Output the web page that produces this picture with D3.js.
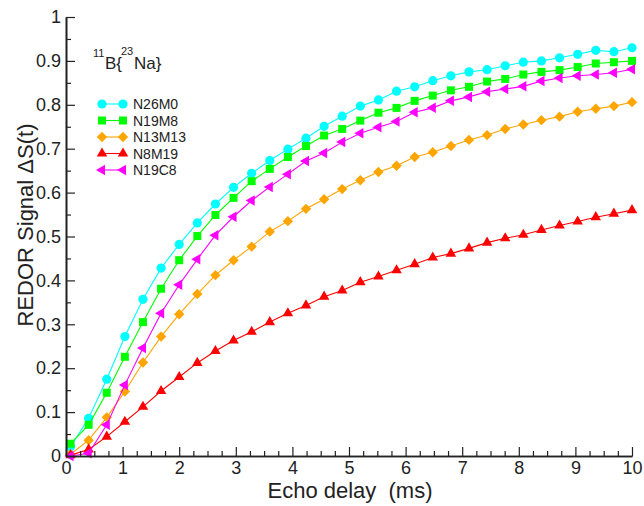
<!DOCTYPE html>
<html><head><meta charset="utf-8">
<script src="https://cdn.jsdelivr.net/npm/d3@7"></script>
<style>body{margin:0;background:#fff}svg{display:block}text{font-family:"Liberation Sans",Arial,Helvetica,sans-serif;fill:#222}</style>
</head><body><svg id="c" width="644" height="506"></svg>
<script>
const delays = [0.08,0.40,0.72,1.04,1.36,1.68,2.00,2.32,2.64,2.96,3.28,3.60,3.92,4.24,4.56,4.88,5.20,5.52,5.84,6.16,6.48,6.80,7.12,7.44,7.76,8.08,8.40,8.72,9.04,9.36,9.68,10.00];
const N26M0 = [0.021,0.086,0.175,0.272,0.357,0.428,0.482,0.531,0.574,0.612,0.644,0.673,0.699,0.724,0.751,0.774,0.797,0.811,0.831,0.841,0.855,0.866,0.875,0.880,0.889,0.897,0.900,0.907,0.915,0.924,0.921,0.930];
const N19M8 = [0.028,0.071,0.144,0.226,0.305,0.381,0.446,0.501,0.549,0.588,0.626,0.654,0.681,0.706,0.730,0.745,0.764,0.782,0.793,0.809,0.821,0.833,0.841,0.853,0.859,0.869,0.875,0.879,0.886,0.894,0.897,0.900];
const N13M13 = [0.004,0.036,0.088,0.147,0.213,0.272,0.323,0.369,0.412,0.446,0.477,0.511,0.535,0.563,0.585,0.608,0.628,0.647,0.661,0.681,0.692,0.706,0.720,0.731,0.745,0.755,0.765,0.773,0.784,0.791,0.797,0.806];
const N8M19 = [0.002,0.015,0.044,0.078,0.112,0.148,0.180,0.212,0.239,0.263,0.283,0.305,0.325,0.343,0.363,0.377,0.396,0.409,0.423,0.437,0.452,0.461,0.473,0.486,0.496,0.504,0.515,0.525,0.534,0.544,0.552,0.560];
const N19C8 = [0.000,0.006,0.071,0.162,0.246,0.325,0.390,0.448,0.503,0.545,0.582,0.613,0.642,0.672,0.690,0.715,0.735,0.749,0.762,0.783,0.793,0.809,0.818,0.830,0.836,0.842,0.854,0.861,0.866,0.869,0.873,0.881];
const seriesNames = ["N26M0","N19M8","N13M13","N8M19","N19C8"];
const xTicks = [0,1,2,3,4,5,6,7,8,9,10];
const xTickLabels = ["0","1","2","3","4","5","6","7","8","9","10"];
const yTicks = [0,0.1,0.2,0.3,0.4,0.5,0.6,0.7,0.8,0.9,1];
const yTickLabels = ["0","0.1","0.2","0.3","0.4","0.5","0.6","0.7","0.8","0.9","1"];

const seriesData = [N26M0,N19M8,N13M13,N8M19,N19C8];
const colors = ["#00ffff","#00ff00","#ffa500","#ff0000","#ff00ff"];
const shapes = ["circle","square","diamond","triangle","left"];

const svg = d3.select("#c");
const x = d3.scaleLinear().domain([0,10]).range([66,632]);
const y = d3.scaleLinear().domain([0,1]).range([456,17]);

function markerPath(shape){
  switch(shape){
    case "circle": return d3.symbol(d3.symbolCircle, Math.PI*4.6*4.6)();
    case "square": return "M-4,-4H4V4H-4Z";
    case "diamond": return "M0,-5.2L5.2,0L0,5.2L-5.2,0Z";
    case "triangle": { const s=10.5, h=s*Math.sqrt(3)/2; return `M0,${-2*h/3}L${s/2},${h/3}L${-s/2},${h/3}Z`; }
    case "left": { const s=10.5, h=s*Math.sqrt(3)/2; return `M${-2*h/3},0L${h/3},${-s/2}L${h/3},${s/2}Z`; }
  }
}

const line = d3.line().x(d=>x(d[0])).y(d=>y(d[1]));
seriesData.forEach((vals,i)=>{
  const pts = delays.map((d,j)=>[d,vals[j]]);
  const g = svg.append("g");
  g.append("path").attr("d",line(pts)).attr("fill","none").attr("stroke",colors[i]).attr("stroke-width",1.1);
  g.selectAll("path.m").data(pts).enter().append("path").attr("class","m")
    .attr("d",markerPath(shapes[i]))
    .attr("transform",d=>`translate(${x(d[0])},${y(d[1])})`)
    .attr("fill",colors[i]);
});

// axes
const axisColor = "#222";
const yMinor = d3.range(0,1.0001,0.05).map(v=>+v.toFixed(2)).filter(v=>!yTicks.includes(v));
const xMinor = d3.range(0,10.0001,0.25).map(v=>+v.toFixed(2)).filter(v=>!xTicks.includes(v));

const yAx = svg.append("g").attr("transform","translate(66,0)")
  .call(d3.axisLeft(y).tickValues(yTicks).tickFormat((d,i)=>yTickLabels[i]).tickSizeInner(-9).tickSizeOuter(0).tickPadding(5));
const yAxMin = svg.append("g").attr("transform","translate(66,0)")
  .call(d3.axisLeft(y).tickValues(yMinor).tickFormat("").tickSizeInner(-5).tickSizeOuter(0));
const xAx = svg.append("g").attr("transform","translate(0,456)")
  .call(d3.axisBottom(x).tickValues(xTicks).tickFormat((d,i)=>xTickLabels[i]).tickSizeInner(-9).tickSizeOuter(0).tickPadding(5));
const xAxMin = svg.append("g").attr("transform","translate(0,456)")
  .call(d3.axisBottom(x).tickValues(xMinor).tickFormat("").tickSizeInner(-5).tickSizeOuter(0));
[yAx,yAxMin,xAx,xAxMin].forEach(a=>{
  a.selectAll("path.domain").attr("stroke",axisColor).attr("stroke-width",1.6);
  a.selectAll("line").attr("stroke",axisColor).attr("stroke-width",1.2);
  a.selectAll("text").attr("font-size",18).attr("fill",axisColor).attr("font-family","Liberation Sans, Arial, sans-serif");
});

// axis titles
svg.append("text").attr("transform","translate(33,225) rotate(-90)").attr("text-anchor","middle")
  .attr("font-size",22).text("REDOR Signal ΔS(t)");
svg.append("text").attr("x",350).attr("y",498).attr("text-anchor","middle")
  .attr("font-size",22).attr("xml:space","preserve").style("white-space","pre").text("Echo delay  (ms)");

// annotation 11B{23Na}
svg.append("text").attr("x",93).attr("y",57).attr("font-size",11).text("11");
svg.append("text").attr("x",105).attr("y",69).attr("font-size",17).text("B{");
svg.append("text").attr("x",121).attr("y",55).attr("font-size",11).text("23");
svg.append("text").attr("x",134).attr("y",69).attr("font-size",17).text("Na}");

// legend
const legY = [104,120.5,137,153.5,170];
seriesNames.forEach((name,i)=>{
  const g = svg.append("g").attr("transform",`translate(0,${legY[i]})`);
  g.append("line").attr("x1",102).attr("x2",123).attr("y1",0).attr("y2",0).attr("stroke",colors[i]).attr("stroke-width",1.1);
  [102,123].forEach(px=>g.append("path").attr("d",markerPath(shapes[i])).attr("transform",`translate(${px},0)`).attr("fill",colors[i]));
  g.append("text").attr("x",133).attr("y",0).attr("dy","0.36em").attr("font-size",14).text(name);
});
</script></body></html>
